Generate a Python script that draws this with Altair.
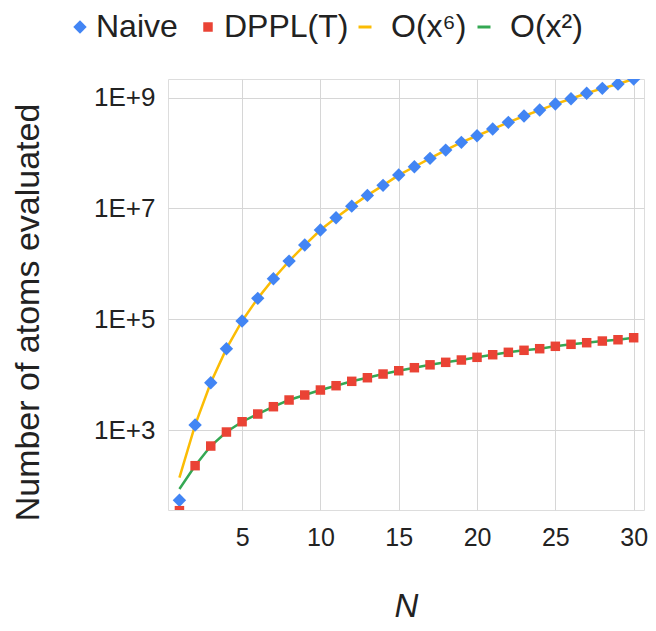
import altair as alt
import pandas as pd

N_values = list(range(1, 31))
naive = [54, 1230, 7150, 29400, 93000, 238000, 538000, 1.12e6, 2.18e6, 4.07e6,
         6.79e6, 1.10e7, 1.72e7, 2.61e7, 4.0e7, 5.66e7, 8.02e7, 1.13e8, 1.56e8, 2.05e8,
         2.71e8, 3.58e8, 4.66e8, 5.97e8, 7.66e8, 9.55e8, 1.2e9, 1.47e9, 1.76e9, 2.17e9]
dppl = [35, 227, 514, 920, 1412, 1945, 2636, 3483, 4285, 5275,
        6310, 7570, 8790, 10250, 11760, 13330, 15030, 16670, 18360, 20530,
        22870, 25270, 27480, 29370, 32450, 35270, 37680, 40390, 42640, 46350]
trend_x6 = [138, 1230, 7150, 29400, 93000, 238000, 538000, 1.12e6, 2.18e6, 4.07e6,
            6.79e6, 1.10e7, 1.72e7, 2.61e7, 4.0e7, 5.66e7, 8.02e7, 1.13e8, 1.56e8, 2.05e8,
            2.71e8, 3.58e8, 4.66e8, 5.97e8, 7.66e8, 9.55e8, 1.2e9, 1.47e9, 1.76e9, 2.17e9]
trend_x2 = [86, 227, 514, 920, 1412, 1945, 2636, 3483, 4285, 5275,
            6310, 7570, 8790, 10250, 11760, 13330, 15030, 16670, 18360, 20530,
            22870, 25270, 27480, 29370, 32450, 35270, 37680, 40390, 42640, 46350]

point_names = ["Naive", "DPPL(T)"]
point_colors = ["#4285F4", "#EA4335"]
point_shapes = ["diamond", "square"]
point_sizes = [180, 90]
trend_names = ["O(x⁶)", "O(x²)"]
trend_colors = ["#FBBC04", "#34A853"]
x_ticks = [5, 10, 15, 20, 25, 30]
y_ticks = [1e3, 1e5, 1e7, 1e9]

rows = []
for name, vals in zip(point_names + trend_names, [naive, dppl, trend_x6, trend_x2]):
    for n, v in zip(N_values, vals):
        rows.append({"N": n, "value": v, "series": name})
df = pd.DataFrame(rows)

FONT = "Liberation Sans"
TXT = "#222222"

x_enc = alt.X(
    "N:Q",
    scale=alt.Scale(domain=[0.27, 30.66], nice=False, zero=False),
    axis=alt.Axis(
        values=x_ticks, title="N", grid=True, ticks=False, domain=False,
        labelFontSize=25, labelFont=FONT, labelColor=TXT, labelPadding=15,
        titleFont=FONT, titleFontSize=33, titleFontStyle="italic",
        titleFontWeight="normal", titleColor=TXT,
        titleX=238, titleY=106, titleBaseline="alphabetic", titleAlign="center",
        gridColor="#d6d6d6", gridWidth=1,
    ),
)
y_enc = alt.Y(
    "value:Q",
    scale=alt.Scale(type="log", domain=[36, 2.17e9], nice=False),
    axis=alt.Axis(
        values=y_ticks, title="Number of atoms evaluated", grid=True, ticks=False,
        domain=False, labelFontSize=26, labelFont=FONT, labelColor=TXT, labelPadding=13,
        labelExpr="'1E+' + round(log(datum.value) / LN10)",
        titleFont=FONT, titleFontSize=34, titleFontWeight="normal", titleColor=TXT,
        titleAngle=270, titleX=-130, titleY=233, titleBaseline="alphabetic",
        titleAlign="center",
        gridColor="#d6d6d6", gridWidth=1,
    ),
)

base = alt.Chart(df)

legend_pts = alt.Legend(
    title=None, orient="none", direction="horizontal",
    legendX=-104, legendY=-68,
    labelFontSize=32, labelFont=FONT, labelColor=TXT, labelLimit=0,
    labelOffset=0, columnPadding=14, symbolOpacity=1,
)
legend_lines = alt.Legend(
    title=None, orient="none", direction="horizontal",
    legendX=181, legendY=-68,
    labelFontSize=32, labelFont=FONT, labelColor=TXT, labelLimit=0,
    labelOffset=10, columnPadding=1, symbolType="stroke", symbolStrokeWidth=3,
    symbolSize=169,
)

lines = base.transform_filter(
    alt.FieldOneOfPredicate(field="series", oneOf=trend_names)
).mark_line(strokeWidth=2.5, clip=True).encode(
    x=x_enc, y=y_enc,
    stroke=alt.Stroke("series:N", scale=alt.Scale(domain=trend_names, range=trend_colors),
                      legend=legend_lines),
)

pts = base.transform_filter(
    alt.FieldOneOfPredicate(field="series", oneOf=point_names)
).mark_point(filled=True, opacity=1, clip=True).encode(
    x=x_enc,
    y=y_enc,
    color=alt.Color("series:N", scale=alt.Scale(domain=point_names, range=point_colors), legend=legend_pts),
    shape=alt.Shape("series:N", scale=alt.Scale(domain=point_names, range=point_shapes), legend=legend_pts),
    size=alt.Size("series:N", scale=alt.Scale(domain=point_names, range=point_sizes), legend=legend_pts),
)

chart = alt.layer(lines, pts).properties(
    width=476, height=431,
    autosize=alt.AutoSizeParams(type="none"),
    padding={"left": 160, "top": 71, "right": 4, "bottom": 113},
).configure_view(stroke=None).configure(background="white")

chart.save("out.html", embed_options={"renderer": "svg", "actions": False})
